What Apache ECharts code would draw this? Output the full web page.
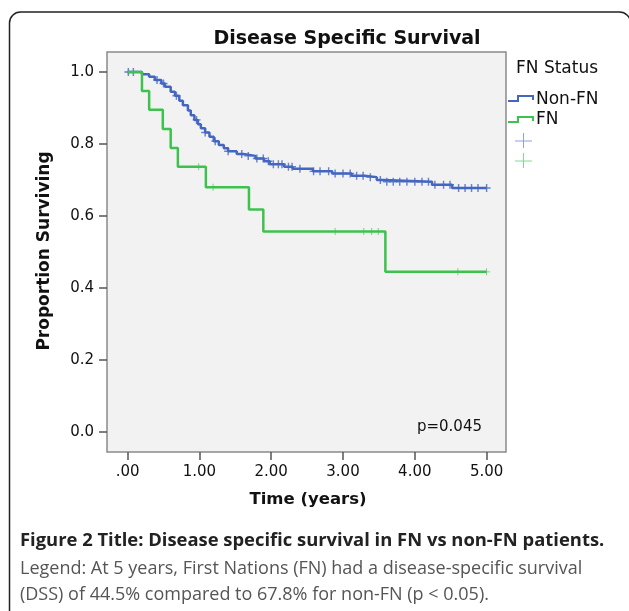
<!DOCTYPE html>
<html>
<head>
<meta charset="utf-8">
<script src="https://cdn.jsdelivr.net/npm/echarts@6/dist/echarts.min.js"></script>
<style>
html,body{margin:0;padding:0;background:#fff;}
#chart{width:629px;height:611px;}
</style>
</head>
<body>
<div id="chart"></div>
<script>
// ---- Data ----
const timeTicks = [0, 1, 2, 3, 4, 5];
const timeTickLabels = ['.00', '1.00', '2.00', '3.00', '4.00', '5.00'];
const survTicks = [0, 0.2, 0.4, 0.6, 0.8, 1.0];
const survTickLabels = ['0.0', '0.2', '0.4', '0.6', '0.8', '1.0'];

// Non-FN Kaplan-Meier steps (time, survival after event)
const nonFnTimes = [0, 0.20, 0.30, 0.38, 0.47, 0.52, 0.60, 0.66, 0.72, 0.77, 0.84, 0.88, 0.93, 0.98, 1.02, 1.08, 1.14, 1.20, 1.27, 1.34, 1.40, 1.52, 1.61, 1.78, 1.90, 1.98, 2.18, 2.30, 2.58, 2.85, 3.12, 3.30, 3.47, 3.56, 4.24, 4.52, 5.00];
const nonFnSurv  = [1.000, 0.994, 0.987, 0.978, 0.968, 0.959, 0.945, 0.934, 0.920, 0.908, 0.893, 0.880, 0.867, 0.855, 0.844, 0.832, 0.820, 0.808, 0.797, 0.788, 0.780, 0.772, 0.767, 0.760, 0.752, 0.744, 0.737, 0.731, 0.724, 0.718, 0.712, 0.708, 0.700, 0.695, 0.687, 0.678, 0.678];
const nonFnCensor = [0.01, 0.08, 0.41, 0.50, 0.68, 0.96, 1.08, 1.22, 1.40, 1.59, 1.68, 1.80, 1.89, 1.96, 2.03, 2.10, 2.15, 2.24, 2.29, 2.40, 2.59, 2.68, 2.80, 2.89, 3.00, 3.10, 3.19, 3.28, 3.38, 3.52, 3.61, 3.70, 3.79, 3.89, 4.00, 4.10, 4.19, 4.28, 4.40, 4.49, 4.61, 4.70, 4.79, 4.88, 5.00];

// FN Kaplan-Meier steps
const fnTimes = [0, 0.20, 0.30, 0.49, 0.60, 0.70, 1.09, 1.69, 1.89, 3.59, 5.00];
const fnSurv  = [1.000, 0.947, 0.895, 0.842, 0.789, 0.737, 0.680, 0.618, 0.557, 0.445, 0.445];
const fnCensor = [0.99, 1.19, 2.89, 3.29, 3.40, 3.49, 4.60, 5.00];

const seriesNames = ['Non-FN', 'FN'];
const blue = '#4466c0';
const green = '#3dc24e';

function stepData(times, surv) { return times.map((t, i) => [t, surv[i]]); }
function survAt(times, surv, t) {
  let s = surv[0];
  for (let i = 0; i < times.length; i++) { if (times[i] <= t) s = surv[i]; }
  return s;
}
function censorData(ct, times, surv) { return ct.map(t => [t, survAt(times, surv, t)]); }

const crossPath = 'path://M0,4.1H10V5.9H0Z M4.1,0H5.9V10H4.1Z';
const crossThin = 'path://M0,4.4H10V5.6H0Z M4.4,0H5.6V10H4.4Z';

const chart = echarts.init(document.getElementById('chart'), null, {renderer: 'canvas'});
const FONT = 'DejaVu Sans';
const CAPF = 'Open Sans';

const option = {
  backgroundColor: '#ffffff',
  animation: false,
  grid: {
    left: 107, top: 52, width: 399, height: 400,
    show: true, backgroundColor: '#f2f2f2', borderColor: '#8a8a8a', borderWidth: 1.5
  },
  xAxis: {
    type: 'value', min: -0.287, max: 5.270,
    axisLine: {show: false, onZero: false},
    splitLine: {show: false},
    axisTick: {show: true, length: 8, customValues: timeTicks, lineStyle: {color: '#555', width: 1.5}},
    axisLabel: {
      customValues: timeTicks, margin: 13,
      formatter: v => timeTickLabels[timeTicks.indexOf(v)],
      fontFamily: FONT, fontSize: 15, color: '#111'
    }
  },
  yAxis: {
    type: 'value', min: -0.0556, max: 1.0556,
    axisLine: {show: false, onZero: false},
    splitLine: {show: false},
    axisTick: {show: true, length: 8, customValues: survTicks, lineStyle: {color: '#555', width: 1.5}},
    axisLabel: {
      customValues: survTicks, margin: 13,
      formatter: v => survTickLabels[survTicks.findIndex(x => Math.abs(x - v) < 1e-9)],
      fontFamily: FONT, fontSize: 15, color: '#111'
    }
  },
  series: [
    {name: seriesNames[0], type: 'line', step: 'end', symbol: 'none',
     data: stepData(nonFnTimes, nonFnSurv), lineStyle: {color: blue, width: 2.5}, z: 3},
    {name: seriesNames[0] + ' censored', type: 'scatter', symbol: crossPath, symbolSize: 8,
     data: censorData(nonFnCensor, nonFnTimes, nonFnSurv), itemStyle: {color: blue}, z: 4},
    {name: seriesNames[1], type: 'line', step: 'end', symbol: 'none',
     data: stepData(fnTimes, fnSurv), lineStyle: {color: green, width: 2.5}, z: 5},
    {name: seriesNames[1] + ' censored', type: 'scatter', symbol: crossThin, symbolSize: 7,
     data: censorData(fnCensor, fnTimes, fnSurv), itemStyle: {color: green}, z: 6}
  ],
  graphic: [
    {type: 'rect', shape: {x: 9.5, y: 12, width: 621, height: 640, r: 11},
     style: {fill: 'none', stroke: '#222', lineWidth: 1.5}, z: 1},
    {type: 'text', x: 347, y: 39, style: {text: 'Disease Specific Survival', fontFamily: FONT, fontWeight: 'bold', fontSize: 19, fill: '#111', align: 'center', verticalAlign: 'middle'}},
    {type: 'text', x: 45, y: 251, rotation: Math.PI / 2, style: {text: 'Proportion Surviving', fontFamily: FONT, fontWeight: 'bold', fontSize: 17, fill: '#111', align: 'center', verticalAlign: 'middle'}},
    {type: 'text', x: 308, y: 500, style: {text: 'Time (years)', fontFamily: FONT, fontWeight: 'bold', fontSize: 16.5, fill: '#111', align: 'center', verticalAlign: 'middle'}},
    {type: 'text', x: 482, y: 427, style: {text: 'p=0.045', fontFamily: FONT, fontSize: 15, fill: '#111', align: 'right', verticalAlign: 'middle'}},
    // legend
    {type: 'text', x: 516, y: 69, style: {text: 'FN Status', fontFamily: FONT, fontSize: 17, fill: '#111', align: 'left', verticalAlign: 'middle'}},
    {type: 'polyline', shape: {points: [[508, 101], [518, 101], [518, 96], [533, 96], [533, 100]]}, style: {stroke: blue, lineWidth: 2, fill: 'none'}},
    {type: 'text', x: 536, y: 100, style: {text: seriesNames[0], fontFamily: FONT, fontSize: 17, fill: '#111', align: 'left', verticalAlign: 'middle'}},
    {type: 'polyline', shape: {points: [[508, 122], [518, 122], [518, 117], [533, 117], [533, 121]]}, style: {stroke: green, lineWidth: 2, fill: 'none'}},
    {type: 'text', x: 536, y: 120, style: {text: seriesNames[1], fontFamily: FONT, fontSize: 17, fill: '#111', align: 'left', verticalAlign: 'middle'}},
    {type: 'line', shape: {x1: 515, y1: 141, x2: 532, y2: 141}, style: {stroke: '#8ea3dc', lineWidth: 1}},
    {type: 'line', shape: {x1: 523.5, y1: 133, x2: 523.5, y2: 148}, style: {stroke: '#8ea3dc', lineWidth: 1}},
    {type: 'line', shape: {x1: 515, y1: 161, x2: 532, y2: 161}, style: {stroke: '#86d890', lineWidth: 1}},
    {type: 'line', shape: {x1: 523.5, y1: 153, x2: 523.5, y2: 168}, style: {stroke: '#86d890', lineWidth: 1}},
    // caption
    {type: 'text', x: 20, y: 541, style: {text: 'Figure 2 Title: Disease specific survival in FN vs non-FN patients.', fontFamily: CAPF, fontWeight: 'bold', fontSize: 18.4, fill: '#222', align: 'left', verticalAlign: 'middle'}},
    {type: 'text', x: 20, y: 569, style: {text: 'Legend: At 5 years, First Nations (FN) had a disease-specific survival', fontFamily: CAPF, fontSize: 18, fill: '#555', align: 'left', verticalAlign: 'middle'}},
    {type: 'text', x: 20, y: 595, style: {text: '(DSS) of 44.5% compared to 67.8% for non-FN (p < 0.05).', fontFamily: CAPF, fontSize: 18, fill: '#555', align: 'left', verticalAlign: 'middle'}}
  ]
};
chart.setOption(option);
</script>
</body>
</html>
